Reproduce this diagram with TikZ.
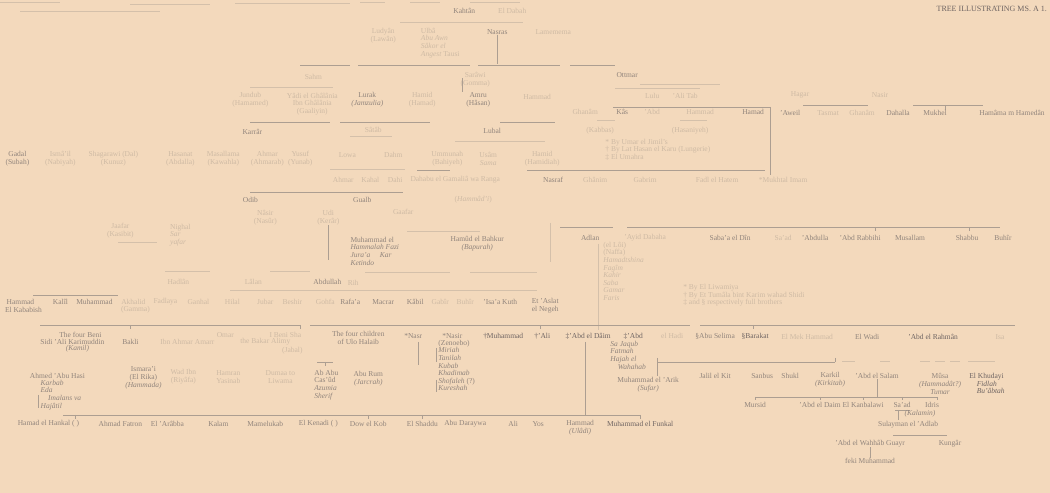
\documentclass[tikz,border=0pt]{standalone}
\usepackage{fontspec}
\setmainfont{Liberation Serif}
\definecolor{bg}{RGB}{243,217,188}
\definecolor{ink}{RGB}{110,100,98}
\definecolor{mid}{RGB}{145,132,124}
\definecolor{fnt}{RGB}{206,186,164}
\definecolor{lcc}{RGB}{172,158,145}
\definecolor{lfc}{RGB}{212,192,170}
\begin{document}
\begin{tikzpicture}[x=1pt,y=-1pt,
 every node/.style={inner sep=0pt,font=\fontsize{7.5}{7.6}\selectfont},
 t/.style={text=ink}, m/.style={text=mid}, f/.style={text=fnt},
 ml/.style={align=left}, mc/.style={align=center},
 ln/.style={draw=lcc,line width=0.6pt}, lf/.style={draw=lfc,line width=0.9pt}]
\path[fill=bg] (0,0) rectangle (1050,493);
% top
\draw[lf] (0,2)--(60,2) (130,4)--(210,4) (235,3)--(350,3) (360,2)--(385,2) (410,2)--(440,2) (470,2)--(520,2) (20,11)--(160,11);
\node[t,anchor=east,font=\fontsize{8}{8}\selectfont] (hdr) at (1047,9) {TREE ILLUSTRATING MS. A 1.};
\node[m] (kah) at (464,11) {Kahtân};
\node[f] (dab) at (512,11) {El Dabah};
\draw[lf] (400,22)--(523,22);
% row 2
\node[f,mc] (lud) at (383,36) {Ludyân\\(Lawân)};
\node[f,ml] (ulb) at (440,43) {Ulbâ\\ \textit{Abu Awn}\\ \textit{Sâkor el}\\ \textit{Angest} Tausi};
\node[m] (nas) at (497,32) {Nasras};
\node[f] (lam) at (553,32) {Lamemema};
\coordinate (nasb) at (497,64);
\draw[ln] (nas.south) -- (nasb);
\draw[ln] (300,65)--(350,65) (358,65)--(470,65) (478,65)--(560,65) (570,65)--(615,65);
% row 3
\node[f] (sah) at (313,77) {Sahm};
\draw[lf] (250,87)--(333,87);
\node[f,mc] (jun) at (250,100) {Jundub\\(Hamamed)};
\node[f,mc] (yad) at (312,104) {Yâdi el Ghâlânia\\Ibn Ghâlânia\\(Gaaliyin)};
\node[m,mc] (lur) at (367,100) {Lurak\\\textit{(Jamzulia)}};
\node[f,mc] (hmd) at (422,100) {Hamid\\(Hamad)};
\node[f,mc] (sar) at (475,80) {Sarâwi\\(Gomma)};
\node[m,mc] (amr) at (478,100) {Amru\\(Hâsan)};
\node[f] (hmm) at (537,97) {Hammad};
\draw[ln] (462,78)--(462,92);
\draw[ln] (250,122)--(330,122) (340,122)--(430,122) (500,122)--(555,122);
\node[m] (kar) at (252,132) {Karrâr};
\node[f] (sat) at (373,130) {Sâtâb};
\draw[lf] (350,137)--(392,137);
\node[m] (lub) at (492,131) {Lubal};
\draw[lf] (455,142)--(545,142);
% row 155
\node[m,mc] (gad) at (17,159) {Gadal\\(Subah)};
\node[f,mc] (ism) at (60,159) {Ismâ'il\\(Nabiyah)};
\node[f,mc] (sha) at (113,159) {Shagarawi (Dal)\\(Kunuz)};
\node[f,mc] (has) at (180,159) {Hasanat\\(Abdalla)};
\node[f,mc] (mas) at (223,159) {Masallama\\(Kawahla)};
\node[f,mc] (ahm) at (267,159) {Ahmar\\(Ahmarab)};
\node[f,mc] (yus) at (300,159) {Yusuf\\(Yunab)};
\node[f] (low) at (347,155) {Lowa};
\node[f] (dhm) at (393,155) {Dahm};
\node[f,mc] (umm) at (447,159) {Ummunah\\(Bahiyeh)};
\node[f,mc] (usa) at (488,159) {Usâm\\\textit{Sama}};
\node[f,mc] (hmi) at (542,159) {Hamid\\(Hamidiah)};
% Ottmar
\node[m] (ott) at (627,75) {Ottmar};
\draw[lf] (615,88)--(700,88) (640,84)--(720,84);
\node[f] (lul) at (652,96) {Lulu};
\node[f] (alt) at (685,96) {'Ali Tab};
\node[f] (hag) at (800,95) {Hagar};
\node[f] (nsr) at (880,95) {Nasir};
\draw[ln] (613,107)--(770,107);
\coordinate (hamb) at (770,175);
\draw[ln] (770,107)--(hamb);
\draw[ln] (803,105)--(868,105) (913,105)--(983,105) (945,105)--(945,110);
\node[f] (gha) at (585,112) {Ghanâm};
\node[m] (kas) at (622,112) {Kâs};
\node[f] (abd1) at (652,112) {'Abd};
\node[f] (hmd2) at (700,112) {Hammad};
\node[m] (ham) at (753,112) {Hamad};
\node[m] (awe) at (790,113) {'Aweil};
\node[f] (tas) at (828,113) {Tasmat};
\node[f] (gh2) at (862,113) {Ghanâm};
\node[m] (dah) at (898,113) {Dahalla};
\node[m] (muk) at (935,113) {Mukhel};
\node[m] (hmh) at (1012,113) {Hamâma m Hamedân};
\draw[lf] (597,120)--(615,120) (680,120)--(707,120);
\node[f] (kab) at (600,131) {(Kabbas)};
\node[f] (hsn) at (690,131) {(Hasaniyeh)};
\node[f,anchor=west] (fa1) at (605,143) {* By Umar el Jimil's};
\node[f,anchor=west] (fa2) at (605,150) {† By Lat Hasan el Karu (Lungerie)};
\node[f,anchor=west] (fa3) at (605,157) {‡ El Umahra};
% row 180
\draw[ln] (417,170)--(450,170) (527,170)--(765,170);
\draw[lf] (330,170)--(405,170);
\node[f] (r1) at (343,180) {Ahmar};
\node[f] (r2) at (370,180) {Kahal};
\node[f] (r3) at (395,180) {Dahi};
\node[f] (r4) at (455,180) {Dahabu el Gamaliâ wa Ranga};
\node[m] (r5) at (553,180) {Nasraf};
\node[f] (r6) at (595,180) {Ghânim};
\node[f] (r7) at (645,180) {Gabrim};
\node[f] (r8) at (717,180) {Fadl el Hatem};
\node[f] (r9) at (783,180) {*Mukhtal Imam};
\draw[ln] (250,192)--(403,192);
\node[m] (odb) at (250,200) {Odib};
\node[m] (gua) at (362,200) {Gualb};
\node[f] (hmi2) at (473,200) {(\textit{Hammâd'i})};
\node[f] (gaa) at (403,212) {Gaafar};
\draw[lf] (407,232)--(480,232);
\node[f,mc] (nsi) at (265,218) {Nâsir\\(Nasûr)};
\node[f,mc] (udi) at (328,218) {Udi\\(Kerâr)};
\node[f,mc] (jaa) at (120,231) {Jaafar\\(Kasibit)};
\draw[lf] (118,243)--(157,243);
\node[f,ml] (sry) at (180,235) {Nighal\\\textit{Sar}\\\textit{yafar}};
\coordinate (udib) at (328,260);
\draw[ln] (udi.south) -- (udib);
\draw[lf] (550,223)--(550,262);
\node[m,ml,anchor=north west] (muh) at (350,237) {Muhammad el\\\textit{Hammalah} \textit{Fazi}\\\textit{Jura'a} \quad \textit{Kar}\\\textit{Ketindo}};
\node[m,mc] (hmb) at (477,244) {Hamûd el Bahkur\\\textit{(Bapurah)}};
% right branch
\draw[ln] (560,227)--(613,227) (627,227)--(1000,227) (875,227)--(875,231) (969,227)--(969,231);
\node[m] (adl) at (590,238) {Adlan};
\node[f] (ay) at (645,238) {'Ayid Dabaha};
\node[m] (sab) at (730,238) {Saba'a el Dîn};
\node[f] (sa2) at (783,238) {Sa'ad};
\node[m] (ual) at (815,238) {'Abdulla};
\node[m] (abr) at (860,238) {'Abd Rabbihi};
\node[m] (mus) at (910,238) {Musallam};
\node[m] (shb) at (967,238) {Shabbu};
\node[m] (buh) at (1003,238) {Buhîr};
\node[f,ml,anchor=north west] (adk) at (603,242) {(el Lôi)\\(Naffa)\\\textit{Hamadtshina}\\\textit{Fagîm}\\\textit{Kahir}\\\textit{Saba}\\\textit{Gamar}\\\textit{Faris}};
\coordinate (adlb) at (598,330);
\draw[lf] (598,244)--(adlb);
\node[f,anchor=west] (fb1) at (683,288) {* By El Liwamiya};
\node[f,anchor=west] (fb2) at (683,296) {† By Et Tumâla bint Karim wahad Shidi};
\node[f,anchor=west] (fb3) at (683,303) {‡ and § respectively full brothers};
% rows 273-310
\draw[lf] (165,272)--(210,272) (270,272)--(310,272) (365,273)--(450,273) (470,273)--(537,273);
\node[f] (hdl) at (178,282) {Hadlân};
\node[f] (lal) at (253,282) {Lâlan};
\node[m] (abu) at (327,282) {Abdullah};
\node[f] (rih) at (353,283) {Rih};
\draw[lf] (230,291)--(537,291);
\draw[ln] (33,295)--(118,295);
\node[m] (p1) at (20,302) {Hammad};
\node[m] (p2) at (60,302) {Kalîl};
\node[m] (p3) at (94,302) {Muhammad};
\node[f] (p4) at (133,302) {Akhalid};
\node[f] (p4b) at (135,310) {(Gamma)};
\node[f] (p5) at (165,302) {Fadlaya};
\node[f] (p6) at (198,302) {Ganhal};
\node[f] (p7) at (232,302) {Hilal};
\node[f] (p8) at (265,302) {Jubar};
\node[f] (p9) at (292,302) {Beshir};
\node[f] (p10) at (325,302) {Gohfa};
\node[m] (p11) at (350,302) {Rafa'a};
\node[m] (p12) at (383,302) {Macrar};
\node[m] (p13) at (415,302) {Kâbil};
\node[f] (p14) at (440,302) {Gabîr};
\node[f] (p15) at (465,302) {Buhîr};
\node[m] (p16) at (500,302) {'Isa'a Kuth};
\node[m,mc] (p17) at (545,306) {Et 'Aslat\\el Negeh};
\node[m] (p1b) at (23,310) {El Kababish};
% row 335
\draw[ln] (40,325)--(300,325) (310,325)--(690,325) (700,325)--(1015,325);
\draw[ln] (130,325)--(130,329) (300,325)--(300,329) (540,325)--(540,329) (753,325)--(753,329);
\node[m] (q1) at (80,335) {The four Beni};
\node[m] (q2) at (72,342) {Sidi 'Ali Karimuddin};
\node[m] (q2b) at (77,349) {\textit{(Kamil)}};
\node[m] (q3) at (130,342) {Bakli};
\node[f] (q4) at (187,342) {Ibn Ahmar Amarr};
\node[f] (q5) at (225,335) {Omar};
\node[f] (q6) at (265,342) {the Bakar Alimy};
\node[f] (q7) at (285,335) {I Beni Sha};
\node[f] (q7b) at (292,351) {(Jabal)};
\node[m,mc] (q8) at (358,338) {The four children\\of Ulo Halaib};
\node[m] (q9) at (413,336) {*Nasr};
\node[m] (q10) at (452,336) {*Nasir};
\node[m,ml,anchor=north west] (q10l) at (438,340) {(Zenoebo)\\\textit{Miriah}\\\textit{Tanilah}\\\textit{Kubab}\\\textit{Khadimab}\\\textit{Shofaleh} (?)\\\textit{Kureshah}};
\draw[ln] (436,348)--(436,362) (436,380)--(436,392);
\node[t] (q11) at (503,336) {†Muhammad};
\node[t] (q12) at (542,336) {†'Ali};
\node[t] (q13) at (588,336) {‡'Abd el Dâim};
\node[t] (q14) at (633,336) {‡'Abd};
\node[f] (q15) at (672,336) {el Hadi};
\node[m,ml,anchor=north west] (q14l) at (610,341) {\textit{Sa Jaqub}\\\textit{Fatmah}\\\textit{Hajah el}\\\quad\textit{Wahahab}};
\node[m] (q16) at (715,337) {§Abu Selima};
\node[t] (q17) at (755,337) {§Barakat};
\node[f] (q18) at (807,337) {El Mek Hammad};
\node[m] (q19) at (867,337) {El Wadi};
\node[t] (q20) at (933,337) {'Abd el Rahmân};
\node[f] (q21) at (1000,337) {Isa};
\coordinate (q9b) at (418,365);
\draw[ln] (418,342)--(q9b);
\coordinate (q13b) at (585,415);
\draw[ln] (585,342)--(q13b);
\draw[ln] (657,358)--(657,376);
\draw[ln] (657,362)--(835,362) (835,358)--(835,362);
\draw[lf] (842,362)--(855,362) (880,362)--(890,362) (920,362)--(930,362) (935,362)--(945,362) (950,362)--(960,362) (968,362)--(995,362);
% row 376
\node[m,mc] (s1) at (648,385) {Muhammad el 'Arik\\\textit{(Sufar)}};
\node[m] (s2) at (715,376) {Jalil el Kit};
\node[m] (s3) at (762,376) {Sanbus};
\node[m] (s4) at (790,376) {Shukl};
\node[m,mc] (s5) at (830,380) {Karkil\\\textit{(Kirkitab)}};
\node[m] (s6) at (877,376) {'Abd el Salam};
\node[m,mc] (s7) at (940,384) {Mûsa\\\textit{(Hammadât?)}\\\textit{Tumar}};
\node[t,ml] (s8) at (987,384) {El Khudayi\\\quad\textit{Fidlah}\\\quad\textit{Bu'âbtah}};
\coordinate (s6b) at (877,397);
\draw[ln] (s6.south) -- (s6b);
\draw[ln] (755,397)--(937,397) (755,397)--(755,400) (820,397)--(820,400) (863,397)--(863,400) (902,397)--(902,400) (937,397)--(937,400);
\node[m] (u1) at (755,405) {Mursid};
\node[m] (u2) at (820,405) {'Abd el Daim};
\node[m] (u3) at (863,405) {El Kanbalawi};
\node[m] (u4) at (902,405) {Sa'ad};
\node[m] (u5) at (932,405) {Idris};
\draw[ln] (895,410)--(910,410);
\coordinate (u4b) at (898,420);
\draw[ln] (898,410)--(u4b);
\node[m] (u6) at (920,414) {\textit{(Kalamin)}};
\node[m] (u7) at (908,425) {Sulayman el 'Adlab};
\draw[ln] (893,435)--(947,435);
\node[m] (w1) at (870,444) {'Abd el Wahhâb Guayr};
\node[m] (w2) at (950,444) {Kungâr};
\node[m] (w3) at (870,461) {feki Muhammad};
\draw[ln] (w1.south) -- (w3.north);
% left rows 376
\node[m] (v1) at (57,376) {Ahmed 'Abu Hasi};
\node[m,ml,anchor=north west] (v1l) at (40,380) {\textit{Karbab}\\\textit{Eda}\\\quad\textit{Imalans va}\\\textit{Hajâtil}};
\draw[ln] (38,395)--(38,408);
\node[m,mc] (v2) at (143,378) {Ismara'i\\(El Rika)\\\textit{(Hammada)}};
\node[f,mc] (v3) at (183,377) {Wad Ibn\\(Riyâfa)};
\node[f,mc] (v4) at (228,377) {Hamran\\Yasinab};
\node[f,mc] (v5) at (280,377) {Dumaa to\\Liwama};
\draw[ln] (317,362)--(333,362) (325,362)--(325,366);
\node[m,ml] (v6) at (326,385) {Ab Abu\\Cas'ûd\\\textit{Azumia}\\\textit{Sherif}};
\node[m,mc] (v7) at (368,379) {Abu Rum\\\textit{(Jarcrah)}};
% bottom row
\draw[ln] (63,415)--(640,415);
\draw[ln] (75,415)--(75,419) (368,415)--(368,419) (422,415)--(422,419) (640,415)--(640,419);
\node[m] (b1) at (48,424) {Hamad el Hankal ( )};
\node[m] (b2) at (120,424) {Ahmad Fatron};
\node[m] (b3) at (167,424) {El 'Arâbba};
\node[m] (b4) at (218,424) {Kalam};
\node[m] (b5) at (265,424) {Mamelukab};
\node[m] (b6) at (318,424) {El Kenadi ( )};
\node[m] (b7) at (368,424) {Dow el Kob};
\node[m] (b8) at (422,424) {El Shaddu};
\node[m] (b9) at (465,424) {Abu Daraywa};
\node[m] (b10) at (513,424) {Ali};
\node[m] (b11) at (538,424) {Yos};
\node[m,mc] (b12) at (580,428) {Hammad\\\textit{(Ulâdi)}};
\node[t] (b13) at (640,424) {Muhammad el Funkal};
\end{tikzpicture}
\end{document}
